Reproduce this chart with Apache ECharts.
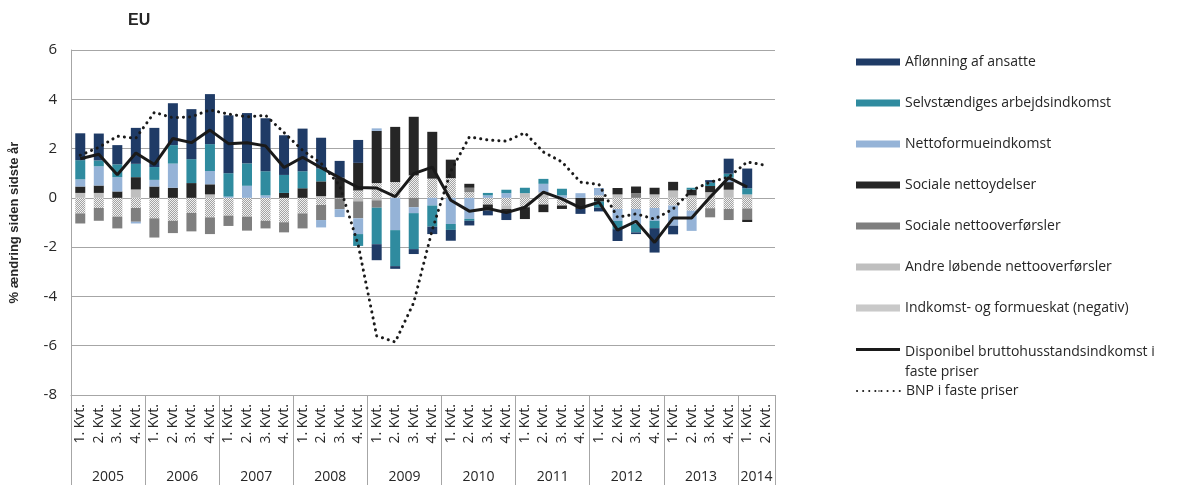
<!DOCTYPE html>
<html><head><meta charset="utf-8">
<script src="https://cdn.jsdelivr.net/npm/echarts@6/dist/echarts.min.js"></script>
<style>html,body{margin:0;padding:0;background:#fff}#c{width:1183px;height:485px}</style>
</head><body><div id="c"></div>
<script>
const years = ['2005','2006','2007','2008','2009','2010','2011','2012','2013','2014'];
const quartersPerYear = [4,4,4,4,4,4,4,4,4,2];
const quarterLabels = ['1. Kvt.','2. Kvt.','3. Kvt.','4. Kvt.'];

const aflonning = [1.09,1.09,0.78,1.46,1.59,1.70,2.03,2.03,2.35,2.04,2.15,1.61,1.73,1.25,0.68,0.93,-0.65,-0.11,-0.20,-0.30,-0.44,-0.19,-0.20,-0.35,0,0,0,-0.20,-0.15,-0.48,-0.07,-0.99,-0.35,0,0.10,0.61,0.80,null];
const selvstaendige = [0.78,0.24,0.52,0.54,0.52,0.75,0.97,1.09,0.95,0.91,0.98,0.73,0.69,0.52,0,-0.48,-1.48,-1.46,-1.46,-0.86,-0.24,-0.08,0.10,0.14,0.22,0.20,0.27,0,-0.25,-0.34,-0.34,-0.30,0,0.08,0.14,0.16,0.25,null];
const nettoformue = [0.29,0.78,0.58,-0.07,0.27,0.98,0,0.54,0.05,0.49,0.10,0,0,-0.30,-0.32,-0.64,0.10,-1.31,-0.24,-0.31,-1.06,-0.85,0.10,0.19,0,0.34,0.10,0.19,0.30,-0.48,-0.61,-0.52,-0.82,-0.82,0,0.18,0,null];
const socialeYdelser = [0.26,0.30,0.26,0.50,0.46,0.41,0.60,0.41,0,0,0,0.20,0.39,0.60,0.82,1.12,2.12,2.24,2.38,1.90,0.75,0.16,-0.24,-0.10,-0.48,-0.31,-0.14,-0.45,-0.15,0.26,0.27,0.27,0.35,0.23,0.25,0.31,-0.10,null];
const socialeOverforsler = [-0.41,-0.52,-0.48,-0.56,-0.78,-0.50,-0.75,-0.68,-0.42,-0.57,-0.31,-0.41,-0.61,-0.61,-0.43,-0.69,-0.30,0,-0.38,0,0,0.18,0,0,0,0,0,0,0,0,0.19,0,0,0,-0.37,-0.45,-0.45,null];
const andreLobende = [0.20,0.20,0,0.34,0,0,0,0.14,0,0,0,0,0,0.07,0,-0.14,-0.10,0,0,0,0,0,0,-0.15,0.19,0.23,0,0,0,0.14,0,0.14,0.30,0.10,0.23,0.33,0.14,null];
const skat = [-0.63,-0.41,-0.76,-0.41,-0.83,-0.93,-0.61,-0.79,-0.72,-0.76,-0.93,-0.99,-0.63,-0.29,-0.03,0.30,0.60,0.64,0.91,0.78,0.80,0.23,-0.27,-0.30,-0.38,-0.27,-0.31,0,0.10,-0.45,-0.45,-0.41,-0.31,-0.52,-0.42,-0.45,-0.43,null];
const disponibel = [1.59,1.77,0.94,1.82,1.35,2.41,2.24,2.75,2.20,2.24,2.11,1.23,1.65,1.22,0.81,0.42,0.40,0.05,0.98,1.25,-0.10,-0.54,-0.43,-0.60,-0.38,0.23,-0.04,-0.41,-0.18,-1.31,-0.95,-1.81,-0.82,-0.82,0.03,0.82,0.44,null];
const bnp = [1.73,2.05,2.50,2.42,3.47,3.25,3.29,3.57,3.40,3.29,3.35,2.65,1.93,1.40,0.50,-1.90,-5.60,-5.85,-4.25,-1.30,1.08,2.47,2.35,2.30,2.64,1.86,1.46,0.64,0.54,-0.79,-0.65,-0.86,-0.45,0.30,0.64,0.84,1.46,1.32];

const names = {
  afl: 'Aflønning af ansatte',
  selv: 'Selvstændiges arbejdsindkomst',
  formue: 'Nettoformueindkomst',
  ydel: 'Sociale nettoydelser',
  overf: 'Sociale nettooverførsler',
  andre: 'Andre løbende nettooverførsler',
  skat: 'Indkomst- og formueskat (negativ)',
  disp: 'Disponibel bruttohusstandsindkomst i\nfaste priser',
  bnp: 'BNP i faste priser'
};

const categories = [];
const yearPos = {};
let idx = 0;
years.forEach((y, i) => {
  const n = quartersPerYear[i];
  yearPos[idx + n / 2] = y;
  for (let q = 0; q < n; q++) categories.push(quarterLabels[q]);
  idx += n;
});

const font = 'Open Sans';
const txt = '#262626';
const gridCol = '#a6a6a6';

function bar(name, data, color, extra) {
  return Object.assign({
    name, type: 'bar', stack: 'total', data, barWidth: 10,
    itemStyle: { color }, emphasis: { disabled: true }
  }, extra || {});
}

const chart = echarts.init(document.getElementById('c'), null, { renderer: 'canvas' });
chart.setOption({
  animation: false,
  aria: { enabled: false },
  title: {
    text: 'EU', left: 123, top: 8,
    textStyle: { fontFamily: 'Liberation Sans', fontWeight: 'bold', fontSize: 16, color: txt }
  },
  grid: { left: 66, top: 50, width: 709, height: 345 },
  legend: [
    {
      orient: 'vertical', left: 851, top: 47, itemWidth: 44, itemHeight: 7, itemGap: 21,
      icon: 'rect',
      textStyle: { fontFamily: font, fontSize: 14, color: txt, lineHeight: 20 },
      data: [names.afl, names.selv, names.formue, names.ydel, names.overf, names.andre, names.skat]
    },
    {
      orient: 'vertical', left: 851, top: 337, itemWidth: 44, itemHeight: 28,
      textStyle: { fontFamily: font, fontSize: 14, color: txt, lineHeight: 20 },
      data: [{ name: names.disp, icon: 'path://M0,0L44,0L44,3L0,3Z M0,28L0.01,28L0.01,28Z' }]
    },
    {
      orient: 'vertical', left: 851, top: 376, itemWidth: 44, itemHeight: 2,
      textStyle: { fontFamily: font, fontSize: 14, color: txt, lineHeight: 20 },
      data: [names.bnp]
    }
  ],
  xAxis: [
    {
      type: 'category', data: categories, position: 'bottom',
      axisLine: { onZero: false, lineStyle: { color: gridCol } },
      axisTick: { show: true, interval: (i) => i % 4 === 0, length: 90, lineStyle: { color: gridCol } },
      axisLabel: { interval: 0, rotate: 90, fontFamily: font, fontSize: 14, color: txt, margin: 9 },
      splitLine: { show: false }
    },
    {
      type: 'value', min: 0, max: categories.length, interval: 1, position: 'bottom', offset: 69,
      axisLine: { show: false }, axisTick: { show: false }, splitLine: { show: false },
      axisLabel: {
        fontFamily: font, fontSize: 14, color: txt, margin: 6,
        formatter: (v) => yearPos[v] || ''
      }
    }
  ],
  yAxis: {
    type: 'value', min: -8, max: 6, interval: 2,
    name: '% ændring siden sidste år', nameLocation: 'middle', nameGap: 50, nameRotate: 90,
    nameTextStyle: { fontFamily: 'Liberation Sans', fontWeight: 'bold', fontSize: 13, color: txt },
    axisLine: { show: true, lineStyle: { color: gridCol } },
    axisTick: { show: false },
    axisLabel: { fontFamily: font, fontSize: 15, color: txt, margin: 14 },
    splitLine: { lineStyle: { color: gridCol, width: 1 } }
  },
  series: [
    bar(names.skat, skat, '#e6e6e6', {
      itemStyle: {
        color: '#f0f0f0',
        decal: { symbol: 'rect', symbolSize: 1, color: '#a3a3a3', dashArrayX: [[1, 1], [0, 1, 1, 0]], dashArrayY: [1, 0], rotation: 0 }
      }
    }),
    bar(names.andre, andreLobende, '#bfbfbf'),
    bar(names.overf, socialeOverforsler, '#7f7f7f'),
    bar(names.ydel, socialeYdelser, '#262626'),
    bar(names.formue, nettoformue, '#95b3d7'),
    bar(names.selv, selvstaendige, '#2f8b9f'),
    bar(names.afl, aflonning, '#1f3b66'),
    {
      name: names.disp, type: 'line', data: disponibel, symbol: 'none', z: 5,
      lineStyle: { color: '#1a1a1a', width: 3 }, itemStyle: { color: '#1a1a1a' },
      emphasis: { disabled: true }
    },
    {
      name: names.bnp, type: 'line', data: bnp, symbol: 'none', z: 6,
      lineStyle: { color: '#1a1a1a', width: 3, type: [0.1, 6], cap: 'round' }, itemStyle: { color: '#1a1a1a' },
      emphasis: { disabled: true }
    }
  ]
});
</script></body></html>
